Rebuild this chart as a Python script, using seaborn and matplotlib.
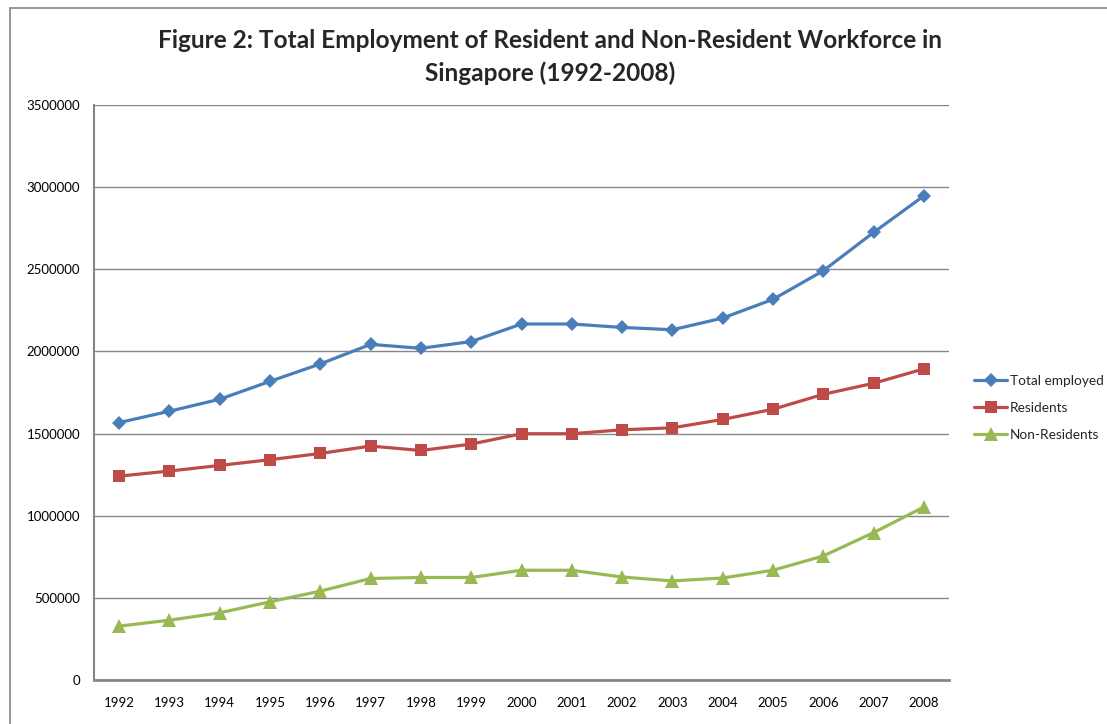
import matplotlib
matplotlib.use("Agg")
import matplotlib.pyplot as plt
import seaborn as sns
import pandas as pd
from matplotlib.patches import Rectangle

years = [1992, 1993, 1994, 1995, 1996, 1997, 1998, 1999, 2000,
         2001, 2002, 2003, 2004, 2005, 2006, 2007, 2008]
total_employed = [1567000, 1636000, 1709000, 1818000, 1924000, 2043000, 2019000, 2060000, 2167000,
                  2167000, 2146000, 2132000, 2203000, 2317000, 2491000, 2724000, 2947000]
residents = [1241000, 1272000, 1306000, 1341000, 1379000, 1424000, 1397000, 1436000, 1499000,
             1499000, 1523000, 1535000, 1586000, 1648000, 1739000, 1806000, 1894000]
non_residents = [328000, 364000, 409000, 476000, 541000, 618000, 624000, 624000, 668000,
                 668000, 627000, 603000, 621000, 668000, 755000, 897000, 1053000]
series_names = ["Total employed", "Residents", "Non-Residents"]
y_ticks = [0, 500000, 1000000, 1500000, 2000000, 2500000, 3000000, 3500000]
title = "Figure 2: Total Employment of Resident and Non-Resident Workforce in\nSingapore (1992-2008)"

colors = {"Total employed": "#4A7EBB", "Residents": "#BE4B48", "Non-Residents": "#98B954"}
markers = {"Total employed": "D", "Residents": "s", "Non-Residents": "^"}

sns.set_style("white")
plt.rcParams["font.family"] = ["Lato", "DejaVu Sans"]

rows = []
for name, vals in zip(series_names, [total_employed, residents, non_residents]):
    for i, (yr, v) in enumerate(zip(years, vals)):
        rows.append({"idx": i, "year": str(yr), "value": v, "series": name})
df = pd.DataFrame(rows)

fig = plt.figure(figsize=(11.07, 7.24), dpi=100)
ax = fig.add_axes([94/1107, 1-680/724, (949-94)/1107, (680-105)/724])

sns.lineplot(data=df, x="idx", y="value", hue="series", style="series",
             hue_order=series_names, style_order=series_names,
             palette=colors, markers=markers, dashes=False,
             linewidth=2.3, markersize=8.5, markeredgewidth=0, ax=ax, legend=True)

for line in ax.lines:
    if line.get_marker() == "s":
        line.set_markersize(9)
    elif line.get_marker() == "^":
        line.set_markersize(10)
    elif line.get_marker() == "D":
        line.set_markersize(7)

ax.set_xlim(-0.5, len(years) - 0.5)
ax.set_ylim(0, 3500000)
ax.set_xticks(range(len(years)))
ax.set_xticklabels([str(y) for y in years], fontsize=9.5)
ax.set_yticks(y_ticks)
ax.set_yticklabels([str(t) for t in y_ticks], fontsize=9.5)
ax.tick_params(axis="both", length=0, pad=10, colors="black")
ax.tick_params(axis="x", pad=12)
ax.set_xlabel("")
ax.set_ylabel("")
ax.grid(axis="y", color="#868686", linewidth=1.0)
ax.set_axisbelow(True)
for s in ["top", "right"]:
    ax.spines[s].set_visible(False)
ax.spines["left"].set_color("#868686")
ax.spines["left"].set_linewidth(1.5)
ax.spines["bottom"].set_color("#868686")
ax.spines["bottom"].set_linewidth(2.0)

leg = ax.legend(loc="center left", bbox_to_anchor=(962/1107, 1-408/724),
                bbox_transform=fig.transFigure, frameon=False, fontsize=9.8,
                handlelength=2.4, handletextpad=0.2, labelspacing=1.1)
for h in leg.legend_handles:
    h.set_linewidth(2.3)

fig.text(0.497, 1-57/724, title, ha="center", va="center", fontsize=17.6,
         fontweight="bold", linespacing=1.45)

fig.patches.append(Rectangle((10/1107, -0.1), 1.2, (1-8/724) + 0.1,
                             transform=fig.transFigure, fill=False,
                             edgecolor="#868686", linewidth=1.2, zorder=0))

fig.savefig("out.png", dpi=100)
